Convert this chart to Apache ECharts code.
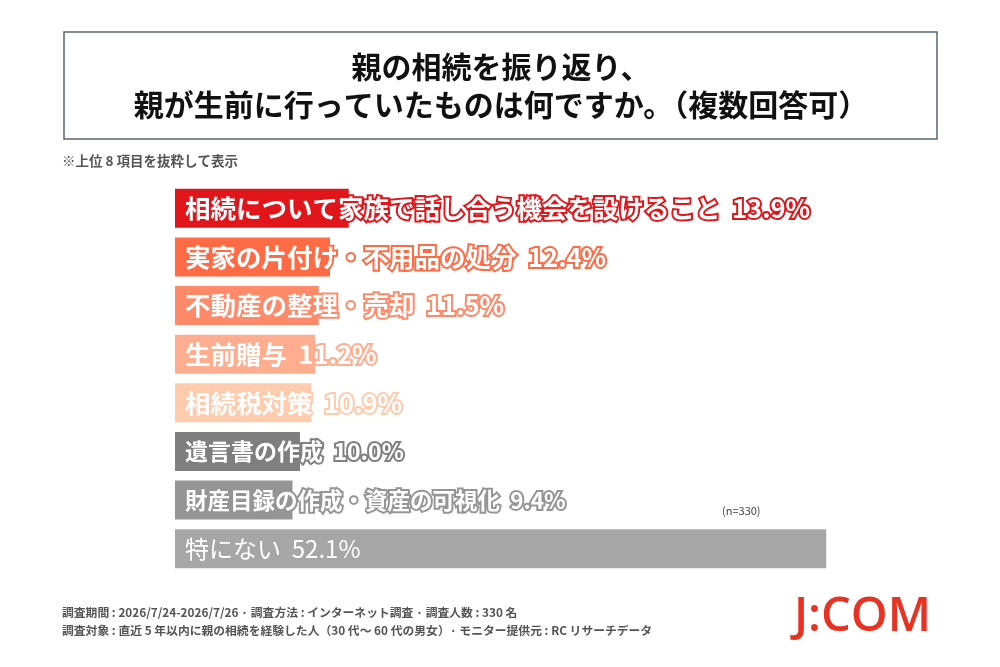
<!DOCTYPE html>
<html>
<head>
<meta charset="utf-8">
<script src="https://cdn.jsdelivr.net/npm/echarts@6/dist/echarts.min.js"></script>
<style>
html,body{margin:0;padding:0;background:#fff;}
#chart{width:1000px;height:667px;}
</style>
</head>
<body>
<div id="chart"></div>
<script>
const categories = [
  '相続について家族で話し合う機会を設けること',
  '実家の片付け・不用品の処分',
  '不動産の整理・売却',
  '生前贈与',
  '相続税対策',
  '遺言書の作成',
  '財産目録の作成・資産の可視化',
  '特にない'
];
const values = [13.9, 12.4, 11.5, 11.2, 10.9, 10.0, 9.4, 52.1];
const barColors = ['#E0161B', '#FF6B45', '#FF8A6A', '#FFAD8E', '#FFCBAD', '#7F7F7F', '#959595', '#A6A6A6'];
const titleLines = ['親の相続を振り返り、', '親が生前に行っていたものは何ですか。（複数回答可）'];
const noteText = '※上位 8 項目を抜粋して表示';
const sampleText = '(n=330)';
const footerLines = [
  '調査期間 : 2026/7/24-2026/7/26 · 調査方法 : インターネット調査 · 調査人数 : 330 名',
  '調査対象 : 直近 5 年以内に親の相続を経験した人（30 代～ 60 代の男女）· モニター提供元 : RC リサーチデータ'
];
const logoText = 'J:COM';

const FONT = '"Noto Sans CJK JP", "Noto Sans", sans-serif';
const labelSizes = [25.5, 25.5, 25.5, 25.5, 25.5, 23, 22.5, 24];

const chart = echarts.init(document.getElementById('chart'));

const seriesData = values.map((v, i) => {
  const last = i === values.length - 1;
  return {
    value: v,
    itemStyle: { color: barColors[i] },
    label: {
      color: '#fff',
      fontWeight: last ? 'normal' : 'bold',
      fontSize: labelSizes[i],
      textBorderColor: barColors[i],
      textBorderWidth: last ? 0 : 4
    }
  };
});

chart.setOption({
  animation: false,
  grid: { left: 175, width: 750, top: 184, height: 389 },
  xAxis: { type: 'value', min: 0, max: 60, show: false },
  yAxis: {
    type: 'category', data: categories, inverse: true, show: false
  },
  series: [{
    type: 'bar',
    data: seriesData,
    barWidth: 39,
    label: {
      show: true,
      position: 'insideLeft',
      distance: 10,
      fontFamily: FONT,
      formatter: p => p.name + '  ' + Number(p.value).toFixed(1) + '%'
    }
  }],
  graphic: [
    { type: 'rect', shape: { x: 64, y: 32, width: 873, height: 107 },
      style: { fill: '#fff', stroke: '#5B6670', lineWidth: 1.5 } },
    { type: 'text', x: 501, y: 67,
      style: { text: titleLines[0], fontFamily: FONT, fontWeight: 'bold', fontSize: 30, fill: '#111',
        textAlign: 'center', textVerticalAlign: 'middle' } },
    { type: 'text', x: 501, y: 105,
      style: { text: titleLines[1], fontFamily: FONT, fontWeight: 'bold', fontSize: 30, fill: '#111',
        textAlign: 'center', textVerticalAlign: 'middle' } },
    { type: 'text', x: 62, y: 161,
      style: { text: noteText, fontFamily: FONT, fontWeight: 'bold', fontSize: 13.5, fill: '#555',
        textVerticalAlign: 'middle' } },
    { type: 'text', x: 722, y: 511,
      style: { text: sampleText, fontFamily: FONT, fontSize: 11, fill: '#444',
        textVerticalAlign: 'middle' } },
    { type: 'text', x: 62, y: 613,
      style: { text: footerLines[0], fontFamily: FONT, fontWeight: 'bold', fontSize: 11.8, fill: '#555',
        textVerticalAlign: 'middle' } },
    { type: 'text', x: 62, y: 631,
      style: { text: footerLines[1], fontFamily: FONT, fontWeight: 'bold', fontSize: 11.8, fill: '#555',
        textVerticalAlign: 'middle' } },
    { type: 'text', x: 931, y: 618,
      style: { text: logoText, fontFamily: '"Open Sans", Lato, sans-serif', fontWeight: 600, fontSize: 47, fill: '#E63323',
        textAlign: 'right', textVerticalAlign: 'middle' } }
  ]
});
</script>
</body>
</html>
